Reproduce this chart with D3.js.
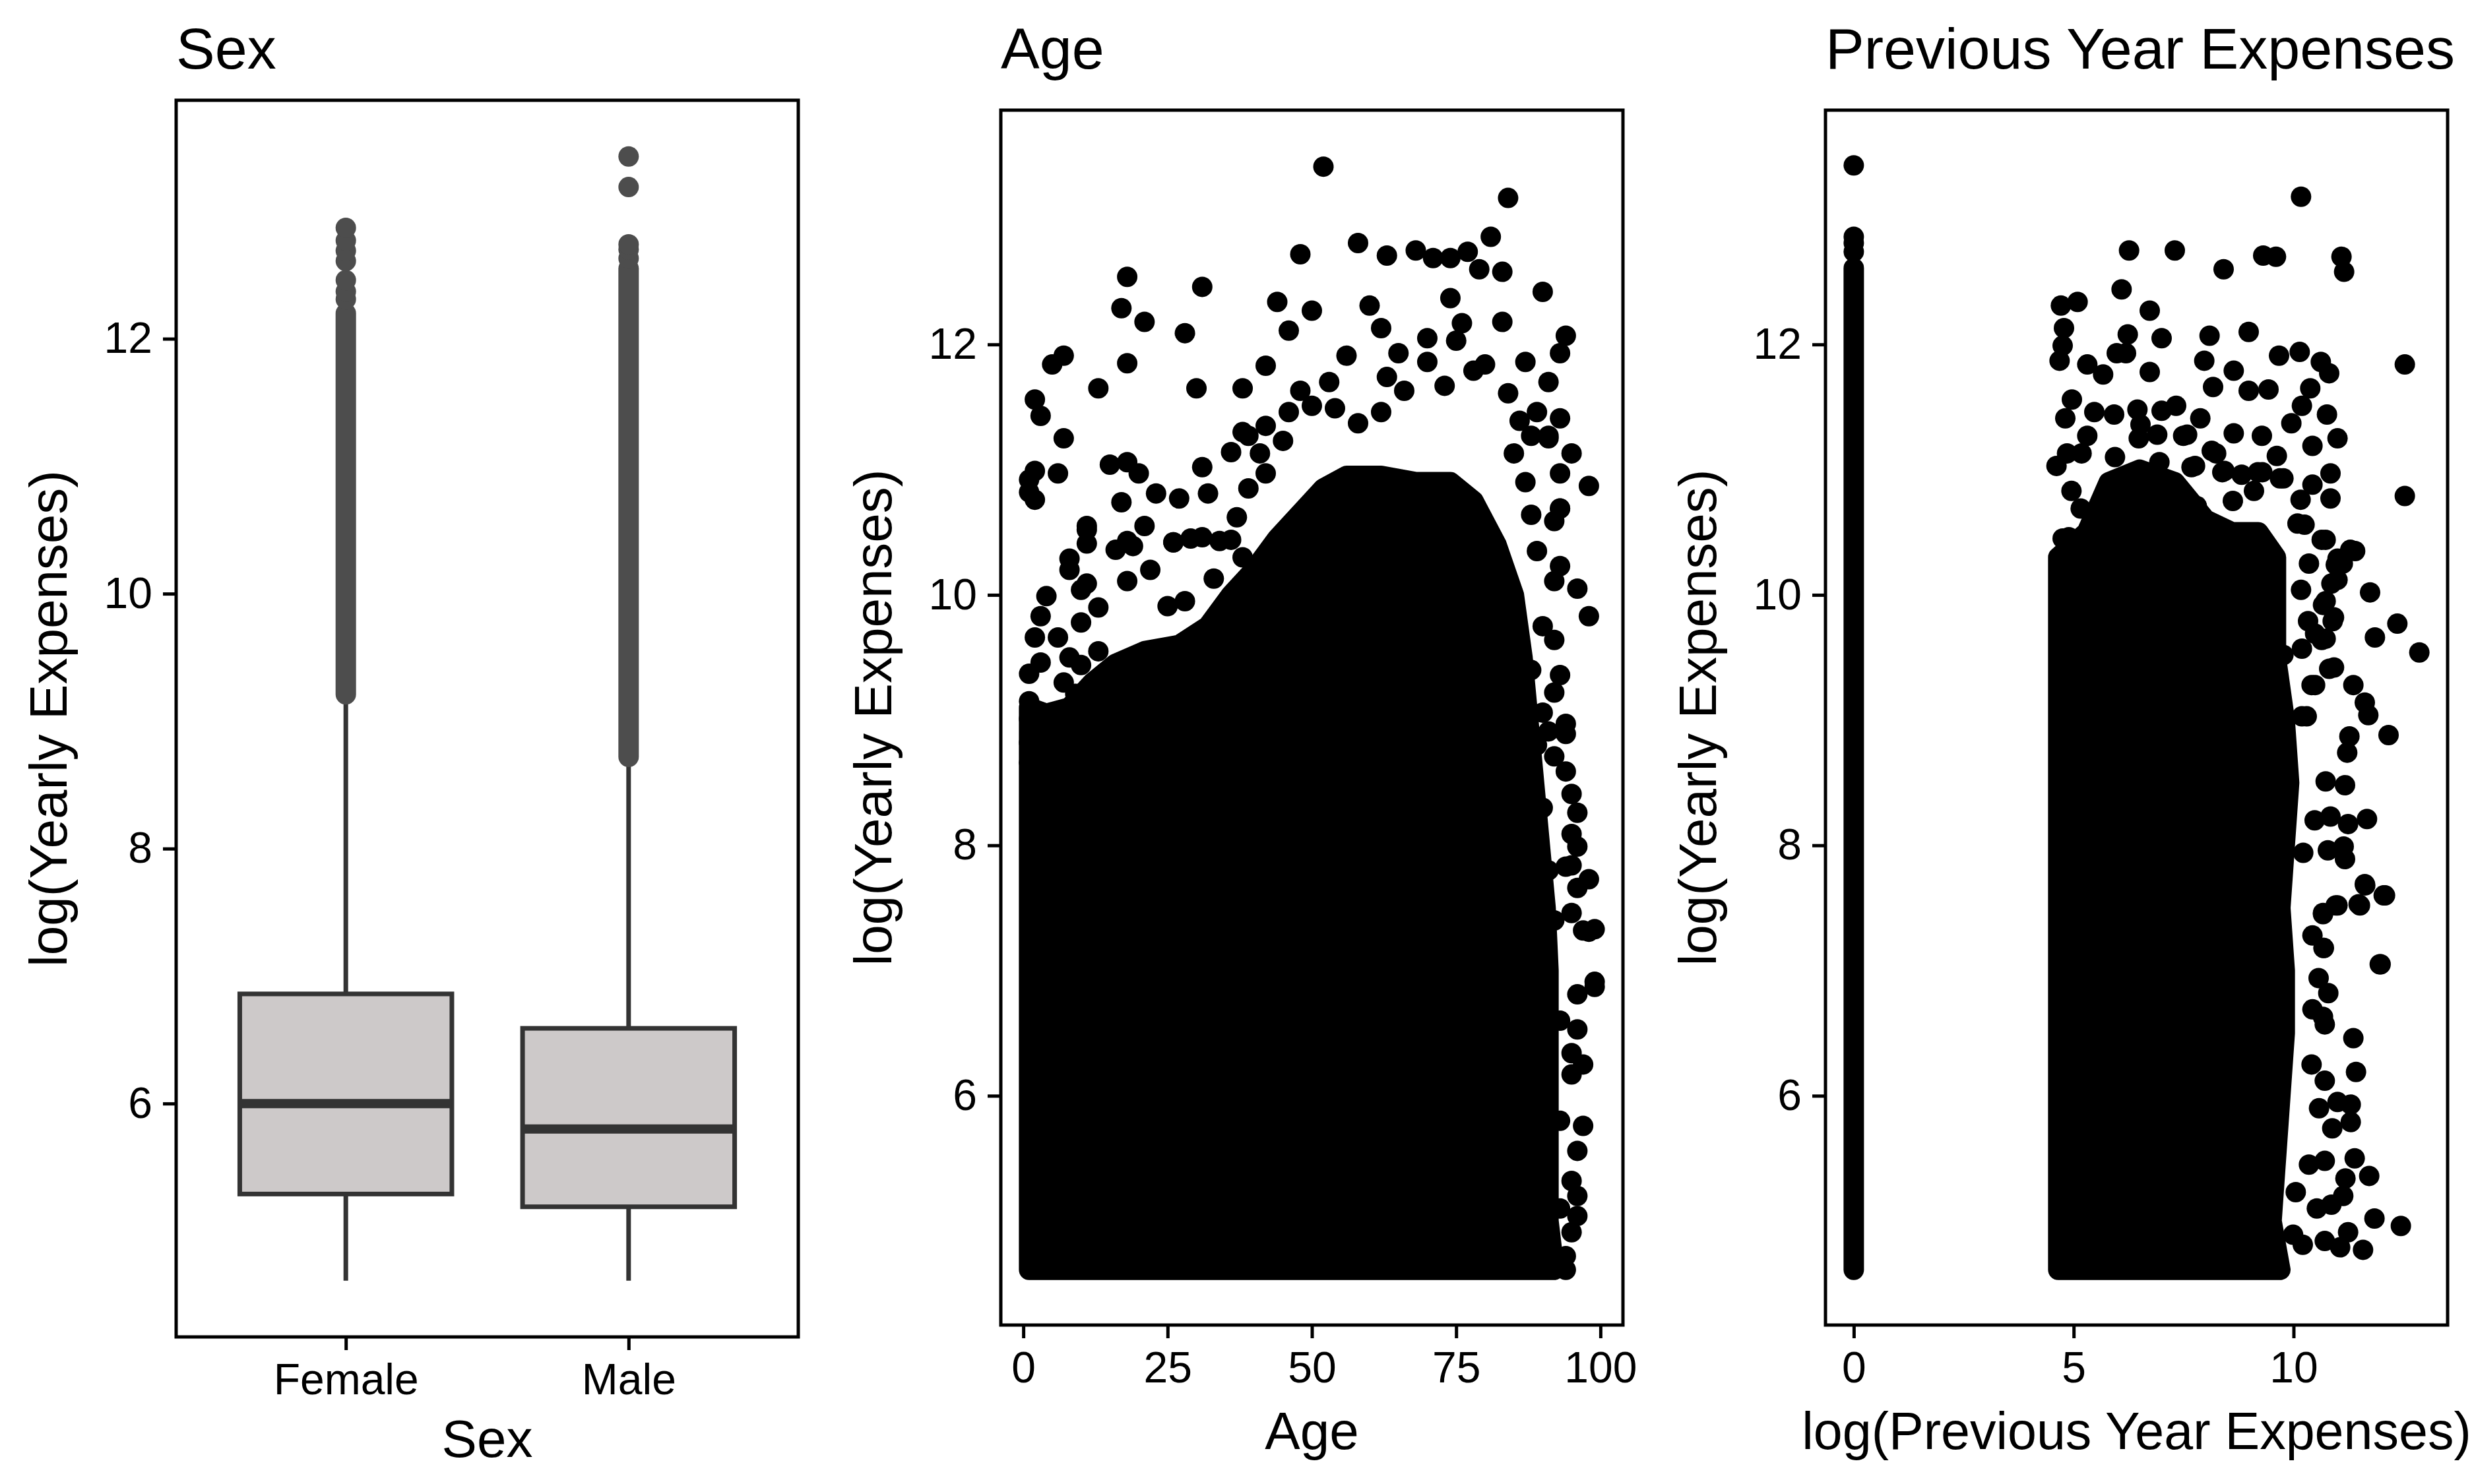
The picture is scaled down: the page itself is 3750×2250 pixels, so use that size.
<!DOCTYPE html>
<html>

<head>
    <title>Yearly Expenses</title>
    <script src="https://d3js.org/d3.v7.min.js"></script>
    <style>
        body {
            margin: 0;
            background: white;
        }

        svg {
            display: block;
        }

        text {
            font-family: "Liberation Sans", Arial, Helvetica, sans-serif;
        }
    </style>
</head>

<body>
    <svg id="mainCanvas" width="3750" height="2250"></svg>
    <script>

        // ---- values ----
        const sexCategories = ["Female", "Male"];
        const boxQ1 = [5.29, 5.19];
        const boxMedian = [6.00, 5.80];
        const boxQ3 = [6.86, 6.59];
        const whiskerLow = [4.61, 4.61];
        const whiskerHigh = [9.18, 8.69];
        // outliers so packed they form a solid run, then the separate ones on top
        const outlierRuns = [[9.21, 12.20], [8.72, 12.55]];
        const femaleOutliers = [12.31, 12.37, 12.46, 12.61, 12.69, 12.77, 12.87];
        const maleOutliers = [12.63, 12.70, 12.74, 13.19, 13.43];

        // Age panel: outline of the solid black mass, then the loose points
        const ageEnvelope = [[1, 4.61], [1, 9.1], [4, 9.05], [8, 9.1], [12, 9.3], [16, 9.45], [21, 9.55], [27, 9.6],
        [32, 9.75], [36, 10.0], [40, 10.2], [44, 10.45], [48, 10.65], [52, 10.85], [56, 10.95], [62, 10.95],
        [68, 10.9], [74, 10.9], [78, 10.75], [82, 10.4], [85, 10.0], [86.5, 9.5], [87.5, 9.0], [88.5, 8.5],
        [89.5, 8.0], [90.5, 7.5], [91, 7.0], [91, 6.0], [91, 5.0], [92, 4.61]];
        const agePoints = [
            [52, 13.42], [84, 13.17], [58, 12.81], [48, 12.72], [63, 12.71], [68, 12.75], [71, 12.69], [74, 12.69],
            [77, 12.74], [81, 12.86], [79, 12.60], [83, 12.58], [18, 12.54], [31, 12.46], [90, 12.42], [74, 12.37],
            [44, 12.34], [50, 12.27], [60, 12.31], [17, 12.29], [21, 12.18], [28, 12.09], [83, 12.18], [94, 12.07],
            [62, 12.13], [70, 12.05], [75, 12.03], [76, 12.17], [46, 12.11], [7, 11.91], [5, 11.84], [18, 11.85],
            [42, 11.83], [65, 11.93], [93, 11.93], [13, 11.65], [30, 11.65], [2, 11.56], [3, 11.43], [7, 11.25],
            [93, 11.41], [91, 11.70], [15, 11.04], [18, 11.06], [20, 10.97], [6, 10.97], [2, 10.99], [1, 10.92],
            [1, 10.82], [2, 10.76], [31, 11.02], [36, 11.14], [41, 11.13], [39, 11.27], [23, 10.81], [27, 10.77],
            [32, 10.81], [17, 10.74], [11, 10.55], [11, 10.41], [21, 10.55], [26, 10.42], [98, 10.87], [95, 11.13],
            [93, 10.97], [93, 10.69], [88, 10.64], [88, 11.27], [91, 11.25], [38, 11.65],
            [48, 11.63], [50, 11.51], [53, 11.70], [56, 11.91], [54, 11.49], [58, 11.37], [62, 11.46], [63, 11.74],
            [66, 11.63], [70, 11.86], [73, 11.67], [78, 11.79], [80, 11.84], [84, 11.61], [87, 11.86], [86, 11.39],
            [89, 11.46], [91, 11.27], [85, 11.13], [87, 10.90], [42, 11.35], [45, 11.23], [46, 11.46], [38, 11.30],
            [39, 10.85], [37, 10.62], [42, 10.97], [34, 10.43], [29, 10.45], [16, 10.36], [18, 10.43], [8, 10.29],
            [11, 10.52], [26, 10.42], [31, 10.46], [36, 10.44], [19, 10.39], [8, 10.20], [4, 9.99], [3, 9.83],
            [2, 9.66], [6, 9.66], [10, 10.04], [11, 10.09], [13, 9.90], [10, 9.78], [8, 9.50], [10, 9.44], [1, 9.37],
            [3, 9.46], [7, 9.30], [9, 9.21], [13, 9.55], [18, 10.11], [22, 10.20], [28, 9.95], [25, 9.91], [33, 10.13],
            [38, 10.30], [1, 9.15], [1, 9.01], [1, 8.82], [1, 8.66],
            [96, 10.05], [98, 9.83], [93, 10.23], [92, 10.11], [92, 9.64], [93, 9.36], [92, 9.22], [90, 9.06],
            [94, 8.97], [94, 8.89], [91, 8.91], [92, 8.71], [94, 8.59], [95, 8.41], [96, 8.26], [95, 8.09], [96, 7.99],
            [95, 7.84], [98, 7.73], [96, 7.66], [95, 7.46], [98, 7.31], [99, 7.33], [99, 6.91], [94, 7.83], [97, 7.32],
            [99, 6.87], [96, 6.81], [96, 6.53], [95, 6.34], [97, 6.25], [95, 6.17], [97, 5.76], [96, 5.56], [95, 5.32],
            [96, 5.20], [96, 5.04], [95, 4.91], [94, 4.61], [94, 4.72],
            [93, 10.69], [92, 10.59], [89, 10.35], [90, 9.75], [88, 9.40], [89, 8.80], [90, 8.30], [91, 7.80],
            [92, 7.40], [93, 6.60], [93, 5.80], [93, 5.10]
        ];

        // Previous year panel: the column at 0, the solid mass, the loose points
        const prevZeroRun = [4.61, 12.61];
        const prevZeroPoints = [12.74, 12.81, 12.86, 13.43];
        const prevEnvelope = [[4.65, 4.61], [4.65, 10.3], [5.3, 10.5], [5.8, 10.9], [6.5, 11.0], [7.3, 10.9],
        [8.0, 10.6], [8.6, 10.5], [9.2, 10.5], [9.6, 10.3], [9.6, 10.0], [9.6, 9.5], [9.8, 9.0], [9.9, 8.5],
        [9.8, 8.0], [9.7, 7.5], [9.8, 7.0], [9.8, 6.5], [9.7, 6.0], [9.6, 5.5], [9.5, 5.0], [9.7, 4.61]];
        const prevPoints = [
            [10.17, 13.18], [6.26, 12.75], [7.30, 12.75], [8.41, 12.60], [9.31, 12.71], [9.60, 12.70], [11.09, 12.70],
            [11.15, 12.58], [6.09, 12.44], [4.71, 12.31], [5.09, 12.34], [6.73, 12.27], [4.78, 12.13], [4.75, 11.99],
            [4.68, 11.87], [7.00, 12.05], [8.09, 12.07], [8.98, 12.10], [6.23, 12.08], [6.19, 11.93], [5.98, 11.93],
            [7.97, 11.87], [8.64, 11.79], [9.67, 11.91], [10.14, 11.94], [10.62, 11.86], [10.81, 11.77], [12.53, 11.84],
            [12.53, 10.79], [5.31, 11.84], [5.67, 11.76], [6.73, 11.78], [4.96, 11.56], [4.81, 11.41], [5.47, 11.46],
            [5.92, 11.44], [6.45, 11.48], [7.00, 11.47], [7.33, 11.51], [7.88, 11.41], [8.17, 11.66], [8.98, 11.63],
            [9.43, 11.64], [10.38, 11.65], [10.19, 11.51], [10.76, 11.44], [9.95, 11.37], [11.00, 11.25], [10.43, 11.19],
            [10.84, 10.97], [10.84, 10.77], [10.43, 10.88], [5.31, 11.27], [7.49, 11.27], [8.64, 11.29], [9.28, 11.27],
            [9.62, 11.11], [8.14, 11.15], [7.68, 11.02], [4.61, 11.03], [4.85, 11.13], [8.38, 10.98], [9.19, 10.98],
            [9.69, 10.93], [9.10, 10.83], [4.95, 10.83], [5.16, 10.69], [7.80, 10.71], [10.09, 10.57], [10.64, 10.44],
            [11.29, 10.36], [11.00, 10.29], [7.47, 10.56], [8.62, 10.75], [6.95, 11.06], [6.48, 11.25], [4.75, 10.45],
            [11.74, 10.02], [12.36, 9.77], [11.85, 9.66], [12.86, 9.54], [10.96, 10.24], [10.86, 10.09], [10.67, 9.92],
            [10.89, 9.79], [10.64, 9.64], [11.36, 9.28], [11.62, 9.14], [11.70, 9.04], [12.16, 8.88], [11.27, 8.87],
            [11.22, 8.74], [10.81, 9.41], [10.41, 9.28], [10.19, 9.03], [11.17, 8.48], [10.73, 8.51], [11.67, 8.21],
            [11.24, 8.17], [10.84, 8.23], [11.14, 7.99], [10.78, 7.96], [11.17, 7.89], [11.62, 7.69], [12.05, 7.60],
            [11.51, 7.52], [10.96, 7.52], [10.67, 7.45], [10.69, 7.18], [11.98, 7.05], [10.43, 7.28], [10.57, 6.94],
            [10.22, 7.94], [10.48, 8.20], [10.17, 10.04], [10.33, 9.79], [10.19, 9.57],
            [11.63, 7.68], [12.08, 7.60], [11.48, 7.53], [11.00, 7.52], [10.67, 7.46], [11.96, 7.05], [10.68, 7.18],
            [10.79, 6.82], [11.36, 6.46], [10.71, 6.57], [11.42, 6.19], [11.30, 5.93], [11.00, 5.95], [11.30, 5.79],
            [10.71, 6.12], [10.41, 6.25], [10.88, 5.74], [11.39, 5.50], [11.72, 5.36], [11.18, 5.34], [11.84, 5.02],
            [12.44, 4.96], [11.13, 5.20], [11.24, 4.91], [11.58, 4.77], [11.06, 4.79], [10.71, 4.84], [10.21, 4.81],
            [9.99, 4.89], [10.86, 5.13], [10.53, 5.10], [10.71, 5.48], [10.35, 5.45], [10.05, 5.23], [10.58, 5.90],
            [10.67, 6.63], [10.43, 6.69],
            [5.18, 11.13], [4.89, 10.46], [5.94, 11.10], [6.52, 11.36], [6.90, 11.28], [7.58, 11.28], [7.76, 11.03],
            [8.24, 11.13], [8.43, 10.99], [8.82, 10.96], [9.29, 10.98], [9.77, 10.93], [10.16, 10.76], [10.25, 10.56],
            [10.73, 10.44], [11.40, 10.35], [11.12, 10.25], [11.00, 10.12], [10.35, 10.25], [10.73, 9.95],
            [10.92, 9.82], [10.49, 9.69], [10.73, 9.65], [10.92, 9.42], [10.49, 9.28], [10.30, 9.03], [9.77, 9.52],
            [9.68, 9.08]
        ];

        const yTicks = [6, 8, 10, 12];
        const ageTicks = [0, 25, 50, 75, 100];
        const prevTicks = [0, 5, 10];

        // ---- layout ----
        const canvas = d3.select("#mainCanvas");
        canvas.append("rect").attr("width", 3750).attr("height", 2250).attr("fill", "white");

        const dotR = 15.5;
        const panels = [
            { x0: 267, x1: 1210, y0: 152, y1: 2027, title: "Sex", xTitle: "Sex", xBase: 2209, xSize: 80 },
            { x0: 1517, x1: 2460, y0: 167, y1: 2009, title: "Age", xTitle: "Age", xBase: 2197, xSize: 80 },
            { x0: 2767, x1: 3710, y0: 167, y1: 2009, title: "Previous Year Expenses", xTitle: "log(Previous Year Expenses)", xBase: 2197, xSize: 79 }
        ];

        // ggplot style 5% expansion of a continuous range
        function expand([a, b]) {
            const pad = (b - a) * 0.05;
            return [a - pad, b + pad];
        }

        const allY = [].concat(whiskerLow, whiskerHigh, femaleOutliers, maleOutliers, outlierRuns.flat(),
            agePoints.map(d => d[1]), prevPoints.map(d => d[1]), prevZeroPoints, prevZeroRun);
        const yDomain = expand(d3.extent(allY));

        const ageDomain = expand(d3.extent(agePoints.concat(ageEnvelope), d => d[0]));
        const prevDomain = expand(d3.extent(prevPoints.concat(prevEnvelope, [[0, 0]]), d => d[0]));

        function drawFrame(p, x, y, xTickValues) {
            const g = canvas.append("g");

            const yAxis = g.append("g")
                .attr("transform", `translate(${p.x0},0)`)
                .call(d3.axisLeft(y).tickValues(yTicks).tickSize(20).tickPadding(16));
            const xAxis = g.append("g")
                .attr("transform", `translate(0,${p.y1})`)
                .call(d3.axisBottom(x).tickValues(xTickValues).tickSize(20).tickPadding(20));

            [yAxis, xAxis].forEach(ax => {
                ax.attr("font-size", 66).attr("font-family", null);
                ax.select(".domain").remove();
                ax.selectAll(".tick line").attr("stroke", "#000").attr("stroke-width", 5);
                ax.selectAll(".tick text").attr("fill", "#000");
            });

            g.append("rect")
                .attr("x", p.x0).attr("y", p.y0)
                .attr("width", p.x1 - p.x0).attr("height", p.y1 - p.y0)
                .attr("fill", "none").attr("stroke", "#000").attr("stroke-width", 5);

            g.append("text")
                .attr("x", p.x0).attr("y", 104)
                .attr("font-size", 88)
                .text(p.title);

            g.append("text")
                .attr("x", (p.x0 + p.x1) / 2).attr("y", p.xBase)
                .attr("text-anchor", "middle")
                .attr("font-size", p.xSize)
                .text(p.xTitle);

            g.append("text")
                .attr("transform", `translate(${p.x0 - 166},${(p.y0 + p.y1) / 2}) rotate(-90)`)
                .attr("text-anchor", "middle")
                .attr("font-size", 80)
                .text("log(Yearly Expenses)");
        }

        // ---- panel 1: boxplots by sex ----
        {
            const p = panels[0];
            const x = d3.scalePoint().domain(sexCategories).range([p.x0, p.x1]).padding(0.6);
            const y = d3.scaleLinear().domain(yDomain).range([p.y1, p.y0]);
            const boxW = x.step() * 0.75;
            const g = canvas.append("g");
            const outlierColor = "#4d4d4d";
            const lineColor = "#333333";

            sexCategories.forEach((cat, i) => {
                const cx = x(cat);
                g.append("line")
                    .attr("x1", cx).attr("x2", cx)
                    .attr("y1", y(whiskerLow[i])).attr("y2", y(whiskerHigh[i]))
                    .attr("stroke", lineColor).attr("stroke-width", 7);

                g.append("rect")
                    .attr("x", cx - boxW / 2).attr("y", y(boxQ3[i]))
                    .attr("width", boxW).attr("height", y(boxQ1[i]) - y(boxQ3[i]))
                    .attr("fill", "#cdc9c9").attr("stroke", lineColor).attr("stroke-width", 7);

                g.append("line")
                    .attr("x1", cx - boxW / 2).attr("x2", cx + boxW / 2)
                    .attr("y1", y(boxMedian[i])).attr("y2", y(boxMedian[i]))
                    .attr("stroke", lineColor).attr("stroke-width", 14);

                g.append("line")
                    .attr("x1", cx).attr("x2", cx)
                    .attr("y1", y(outlierRuns[i][0])).attr("y2", y(outlierRuns[i][1]))
                    .attr("stroke", outlierColor).attr("stroke-width", dotR * 2)
                    .attr("stroke-linecap", "round");

                g.selectAll(null)
                    .data(i === 0 ? femaleOutliers : maleOutliers)
                    .enter()
                    .append("circle")
                    .attr("cx", cx).attr("cy", d => y(d)).attr("r", dotR)
                    .attr("fill", outlierColor);
            });

            drawFrame(p, x, y, sexCategories);
        }

        // ---- panel 2: age scatter ----
        {
            const p = panels[1];
            const x = d3.scaleLinear().domain(ageDomain).range([p.x0, p.x1]);
            const y = d3.scaleLinear().domain(yDomain).range([p.y1, p.y0]);
            const g = canvas.append("g");

            g.append("path")
                .attr("d", d3.line().x(d => x(d[0])).y(d => y(d[1])).curve(d3.curveLinearClosed)(ageEnvelope))
                .attr("fill", "#000").attr("stroke", "#000")
                .attr("stroke-width", dotR * 2).attr("stroke-linejoin", "round");

            g.selectAll("circle")
                .data(agePoints)
                .enter()
                .append("circle")
                .attr("cx", d => x(d[0])).attr("cy", d => y(d[1])).attr("r", dotR)
                .attr("fill", "#000");

            drawFrame(p, x, y, ageTicks);
        }

        // ---- panel 3: previous year expenses scatter ----
        {
            const p = panels[2];
            const x = d3.scaleLinear().domain(prevDomain).range([p.x0, p.x1]);
            const y = d3.scaleLinear().domain(yDomain).range([p.y1, p.y0]);
            const g = canvas.append("g");

            g.append("line")
                .attr("x1", x(0)).attr("x2", x(0))
                .attr("y1", y(prevZeroRun[0])).attr("y2", y(prevZeroRun[1]))
                .attr("stroke", "#000").attr("stroke-width", dotR * 2)
                .attr("stroke-linecap", "round");

            g.selectAll("circle.zero")
                .data(prevZeroPoints)
                .enter()
                .append("circle")
                .attr("class", "zero")
                .attr("cx", x(0)).attr("cy", d => y(d)).attr("r", dotR)
                .attr("fill", "#000");

            g.append("path")
                .attr("d", d3.line().x(d => x(d[0])).y(d => y(d[1])).curve(d3.curveLinearClosed)(prevEnvelope))
                .attr("fill", "#000").attr("stroke", "#000")
                .attr("stroke-width", dotR * 2).attr("stroke-linejoin", "round");

            g.selectAll("circle.pt")
                .data(prevPoints)
                .enter()
                .append("circle")
                .attr("class", "pt")
                .attr("cx", d => x(d[0])).attr("cy", d => y(d[1])).attr("r", dotR)
                .attr("fill", "#000");

            drawFrame(p, x, y, prevTicks);
        }

    </script>

</body>

</html>
